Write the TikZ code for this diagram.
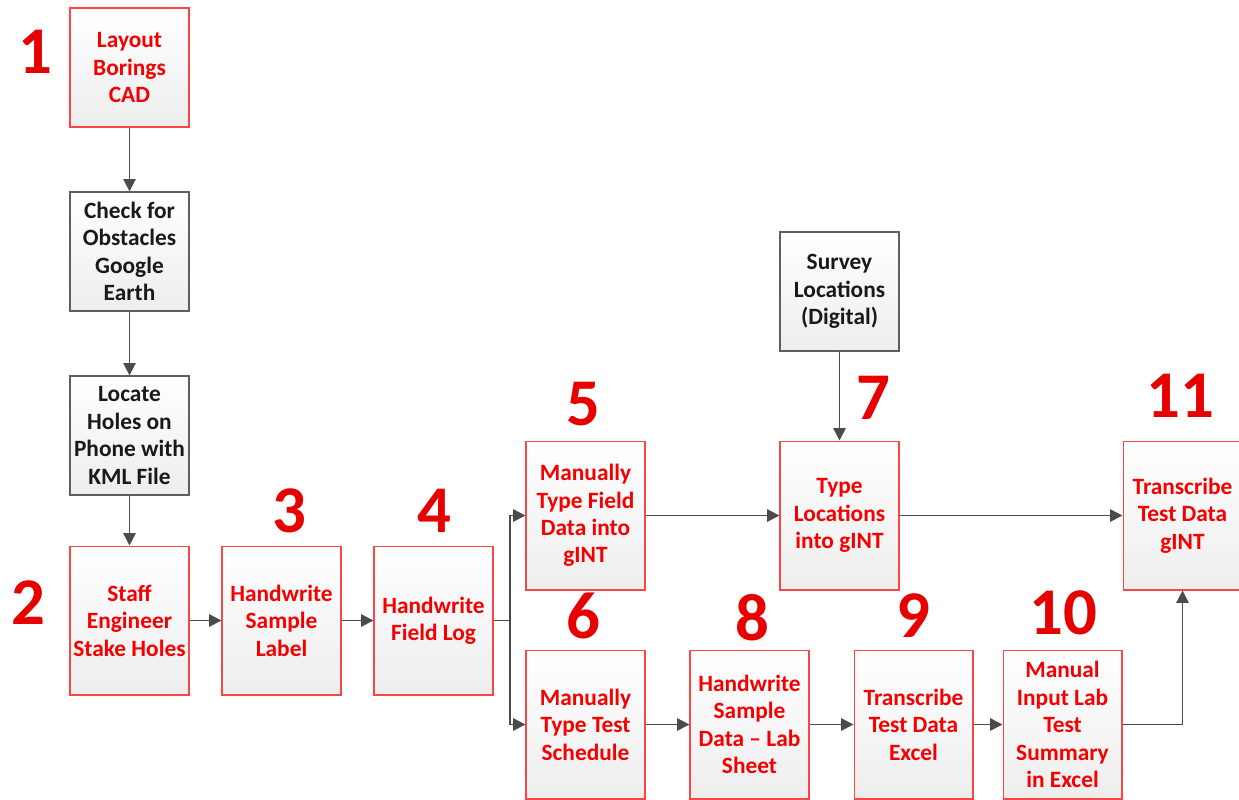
\documentclass[tikz,border=0pt]{standalone}
\usepackage{fontspec}
\setmainfont{Carlito}
\usepackage{xcolor}
\usetikzlibrary{arrows.meta}
\definecolor{steptext}{RGB}{245, 0, 0}
\definecolor{stepedge}{RGB}{250, 70, 70}
\definecolor{numred}{RGB}{230, 0, 0}
\definecolor{plainedge}{RGB}{95, 95, 95}
\definecolor{linkgray}{RGB}{75, 75, 75}

\begin{document}
\begin{tikzpicture}[x=0.02cm, y=-0.02cm,
    box/.style={rectangle, line width=0.6pt, top color=white, bottom color=gray!14,
      minimum width=2.38cm, minimum height=2.38cm, align=center, inner sep=1pt,
      font=\fontsize{13.3}{15.6}\selectfont\bfseries},
    redbox/.style={box, draw=stepedge, text=steptext},
    graybox/.style={box, draw=plainedge, line width=0.75pt, text=black!90},
    tallbox/.style={minimum height=2.98cm},
    num/.style={text=numred, font=\fontsize{38}{40}\selectfont\bfseries},
    link/.style={draw=linkgray, line width=0.85pt, -{Triangle[length=7pt, width=7pt]}}]
  \useasboundingbox (0,0) rectangle (1239,799);
  \begin{scope}
    \clip (0,0) rectangle (1239,799);
    % Left column
    \node[redbox] (layout) at (129.5, 67.5) {Layout\\Borings\\CAD};
    \node[graybox] (check) at (129.5, 251.5) {Check for\\Obstacles\\Google\\Earth};
    \node[graybox] (locate) at (129.5, 435.5) {Locate\\Holes on\\Phone with\\KML File};
    \node[redbox, tallbox] (stake) at (129.5, 620.5) {Staff\\Engineer\\Stake Holes};

    % Field work
    \node[redbox, tallbox] (label) at (281.5, 620.5) {Handwrite\\Sample\\Label};
    \node[redbox, tallbox] (fieldlog) at (433.5, 620.5) {Handwrite\\Field Log};

    % Upper branch
    \node[redbox, tallbox] (typefield) at (585.5, 515.5) {Manually\\Type Field\\Data into\\gINT};
    \node[graybox] (survey) at (839.5, 291.5) {Survey\\Locations\\(Digital)};
    \node[redbox, tallbox] (typeloc) at (839.5, 515.5) {Type\\Locations\\into gINT};
    \node[redbox, tallbox] (transgint) at (1182.5, 515.5) {Transcribe\\Test Data\\gINT};

    % Lower branch
    \node[redbox, tallbox] (typesched) at (585.5, 724.5) {Manually\\Type Test\\Schedule};
    \node[redbox, tallbox] (handsample) at (749.5, 724.5) {Handwrite\\Sample\\Data -- Lab\\Sheet};
    \node[redbox, tallbox] (transexcel) at (913.5, 724.5) {Transcribe\\Test Data\\Excel};
    \node[redbox, tallbox] (labinput) at (1062.5, 724.5) {Manual\\Input Lab\\Test\\Summary\\in Excel};

    % Step numbers
    \node[num] (n1) at (35, 52) {1};
    \node[num] (n2) at (28, 603) {2};
    \node[num] (n3) at (289, 511) {3};
    \node[num] (n4) at (434, 511) {4};
    \node[num] (n5) at (583, 404) {5};
    \node[num] (n6) at (583, 616) {6};
    \node[num] (n7) at (873, 398) {7};
    \node[num] (n8) at (752, 618) {8};
    \node[num] (n9) at (913, 616) {9};
    \node[num] (n10) at (1063, 613) {10};
    \node[num] (n11) at (1180, 396) {11};

    % Connectors
    \draw[link] (layout) -- (check);
    \draw[link] (check) -- (locate);
    \draw[link] (locate) -- (stake);
    \draw[link] (stake) -- (label);
    \draw[link] (label) -- (fieldlog);
    \coordinate (split) at (510, 620.5);
    \draw[link] (fieldlog.east) -- (split) |- (typefield.west);
    \draw[link] (split) |- (typesched.west);
    \draw[link] (typefield) -- (typeloc);
    \draw[link] (survey) -- (typeloc);
    \draw[link] (typeloc) -- (transgint);
    \draw[link] (typesched) -- (handsample);
    \draw[link] (handsample) -- (transexcel);
    \draw[link] (transexcel) -- (labinput);
    \draw[link] (labinput.east) -| (transgint.south);
  \end{scope}
\end{tikzpicture}
\end{document}
